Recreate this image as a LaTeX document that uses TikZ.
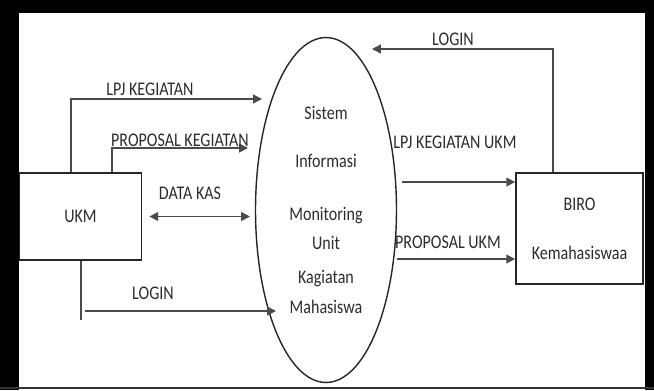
\documentclass[tikz,border=0pt]{standalone}
\usepackage{fontspec}
\newfontfamily\diafont[FakeStretch=0.83]{Carlito}
\usetikzlibrary{arrows.meta,shapes.geometric}

\newcommand{\pxu}[0]{0.02cm}
\definecolor{txtgray}{HTML}{2C2C2C}
\definecolor{linegray}{HTML}{4A4A4A}

\tikzset{
  flow/.style={draw=linegray, line width=0.8pt, -{Triangle[length=5pt,width=5pt]}},
  both/.style={draw=linegray, line width=0.8pt, {Triangle[length=5pt,width=5pt]}-{Triangle[length=5pt,width=5pt]}},
  plain/.style={draw=linegray, line width=0.8pt},
  entity/.style={draw=black!85, line width=1pt, inner sep=0pt, text=txtgray, align=center},
  lbl/.style={text=txtgray, inner sep=0pt}
}

\begin{document}
\begin{tikzpicture}[x=\pxu, y=-\pxu, font={\diafont\fontsize{11pt}{12.5pt}\selectfont}]

\useasboundingbox (0,0) rectangle (654,390);

% frame
\fill[black] (0,0) rectangle (19,390);
\fill[black] (0,0) rectangle (654,13);
\fill[black] (645,0) rectangle (654,390);
\fill[black!80] (0,386.5) rectangle (654,389);

% entities and process
\node[entity, minimum width=2.44cm, minimum height=1.74cm] (ukm) at (80.5,216.5) {UKM};
\node[entity, minimum width=2.54cm, minimum height=2.22cm] (biro) at (579.5,228.5) {BIRO\\[15.5pt]Kemahasiswaa};
\node[draw=black!85, line width=0.8pt, ellipse, inner sep=0pt, minimum width=2.82cm, minimum height=6.9cm,
      text=txtgray, align=center] (sim) at (326,210)
  {Sistem\\[14.5pt]Informasi\\[17.5pt]Monitoring\\[4.5pt]Unit\\[6.5pt]Kagiatan\\[4.5pt]Mahasiswa};

% free ends
\coordinate (lpjtip) at (262,99);
\coordinate (proptip) at (248,148);
\coordinate (kastip) at (250,216.5);
\coordinate (logbot) at (81,320);
\coordinate (logstart) at (85,311);
\coordinate (logtip) at (276,311);
\coordinate (birologtip) at (372,49);
\coordinate (lpjukm) at (402,182);
\coordinate (propukm) at (397,259);

% flows UKM side
\draw[flow] ([xshift=-0.19cm]ukm.north) |- (lpjtip);
\draw[flow] ([xshift=0.63cm]ukm.north) |- (proptip);
\draw[both] ([xshift=0.14cm]ukm.east) -- (kastip);
\draw[plain] (ukm.south -| logbot) -- (logbot);
\draw[flow] (logstart) -- (logtip);

% flows BIRO side
\draw[flow] ([xshift=-0.53cm]biro.north) |- (birologtip);
\draw[flow] (lpjukm) -- (lpjukm -| biro.west);
\draw[flow] (propukm) -- (propukm -| biro.west);

% labels
\node[lbl] (t1) at (150,89) {LPJ KEGIATAN};
\node[lbl] (t2) at (180,140) {PROPOSAL KEGIATAN};
\node[lbl] (t3) at (190,193) {DATA KAS};
\node[lbl] (t4) at (153,293) {LOGIN};
\node[lbl] (t5) at (453,39) {LOGIN};
\node[lbl] (t6) at (455,142) {LPJ KEGIATAN UKM};
\node[lbl] (t7) at (448,242) {PROPOSAL UKM};

\end{tikzpicture}
\end{document}
